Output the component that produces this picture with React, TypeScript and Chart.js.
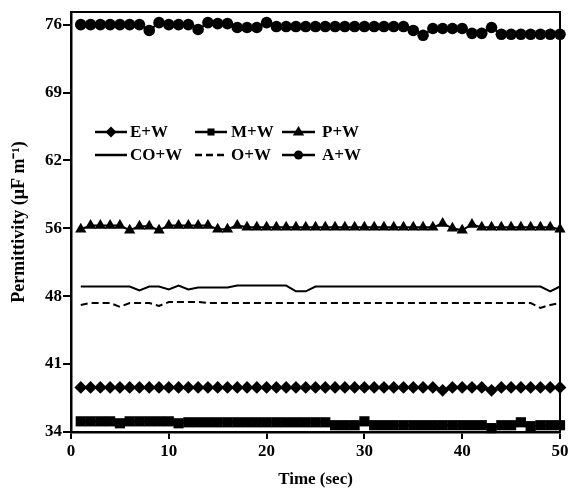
import React, { useEffect, useRef } from "react";
import { Chart, registerables } from "chart.js";

Chart.register(...registerables);

const times = Array.from({ length: 50 }, (_, i) => i + 1);

const ewValues = [
  38.6, 38.6, 38.6, 38.6, 38.6, 38.6, 38.6, 38.6, 38.6, 38.6,
  38.6, 38.6, 38.6, 38.6, 38.6, 38.6, 38.6, 38.6, 38.6, 38.6,
  38.6, 38.6, 38.6, 38.6, 38.6, 38.6, 38.6, 38.6, 38.6, 38.6,
  38.6, 38.6, 38.6, 38.6, 38.6, 38.6, 38.6, 38.3, 38.6, 38.6,
  38.6, 38.6, 38.3, 38.6, 38.6, 38.6, 38.6, 38.6, 38.6, 38.6,
];

const mwValues = [
  35.1, 35.1, 35.1, 35.1, 34.9, 35.1, 35.1, 35.1, 35.1, 35.1,
  34.9, 35.0, 35.0, 35.0, 35.0, 35.0, 35.0, 35.0, 35.0, 35.0,
  35.0, 35.0, 35.0, 35.0, 35.0, 35.0, 34.7, 34.7, 34.7, 35.1,
  34.7, 34.7, 34.7, 34.7, 34.7, 34.7, 34.7, 34.7, 34.7, 34.7,
  34.7, 34.7, 34.4, 34.7, 34.7, 35.0, 34.6, 34.7, 34.7, 34.7,
];

const pwValues = [
  54.9, 55.3, 55.3, 55.3, 55.3, 54.8, 55.2, 55.2, 54.8, 55.3,
  55.3, 55.3, 55.3, 55.3, 54.9, 54.9, 55.3, 55.1, 55.1, 55.1,
  55.1, 55.1, 55.1, 55.1, 55.1, 55.1, 55.1, 55.1, 55.1, 55.1,
  55.1, 55.1, 55.1, 55.1, 55.1, 55.1, 55.1, 55.5, 55.0, 54.8,
  55.4, 55.1, 55.1, 55.1, 55.1, 55.1, 55.1, 55.1, 55.1, 54.9,
];

const cowValues = [
  49.0, 49.0, 49.0, 49.0, 49.0, 49.0, 48.6, 49.0, 49.0, 48.7,
  49.1, 48.7, 48.9, 48.9, 48.9, 48.9, 49.1, 49.1, 49.1, 49.1,
  49.1, 49.1, 48.5, 48.5, 49.0, 49.0, 49.0, 49.0, 49.0, 49.0,
  49.0, 49.0, 49.0, 49.0, 49.0, 49.0, 49.0, 49.0, 49.0, 49.0,
  49.0, 49.0, 49.0, 49.0, 49.0, 49.0, 49.0, 49.0, 48.5, 49.0,
];

const owValues = [
  47.1, 47.3, 47.3, 47.3, 46.9, 47.3, 47.3, 47.3, 47.0, 47.4,
  47.4, 47.4, 47.4, 47.3, 47.3, 47.3, 47.3, 47.3, 47.3, 47.3,
  47.3, 47.3, 47.3, 47.3, 47.3, 47.3, 47.3, 47.3, 47.3, 47.3,
  47.3, 47.3, 47.3, 47.3, 47.3, 47.3, 47.3, 47.3, 47.3, 47.3,
  47.3, 47.3, 47.3, 47.3, 47.3, 47.3, 47.3, 46.8, 47.1, 47.3,
];

const awValues = [
  76.0, 76.0, 76.0, 76.0, 76.0, 76.0, 76.0, 75.4, 76.2, 76.0,
  76.0, 76.0, 75.5, 76.2, 76.1, 76.1, 75.7, 75.7, 75.7, 76.2,
  75.8, 75.8, 75.8, 75.8, 75.8, 75.8, 75.8, 75.8, 75.8, 75.8,
  75.8, 75.8, 75.8, 75.8, 75.4, 74.9, 75.6, 75.6, 75.6, 75.6,
  75.1, 75.1, 75.7, 75.0, 75.0, 75.0, 75.0, 75.0, 75.0, 75.0,
];

const seriesLabels = ["E+W", "M+W", "P+W", "CO+W", "O+W", "A+W"];
const yTickValues = [34, 41, 48, 55, 62, 69, 76];
const yTickLabels = ["34", "41", "48", "56", "62", "69", "76"];
const xTickValues = [0, 10, 20, 30, 40, 50];

const FONT_FAMILY = "'Liberation Serif', 'Times New Roman', serif";

function drawMarker(ctx: CanvasRenderingContext2D, style: string, x: number, y: number, r: number) {
  ctx.beginPath();
  if (style === "rectRot") {
    ctx.moveTo(x, y - r);
    ctx.lineTo(x + r, y);
    ctx.lineTo(x, y + r);
    ctx.lineTo(x - r, y);
    ctx.closePath();
  } else if (style === "rect") {
    const s = r * Math.SQRT1_2;
    ctx.rect(x - s, y - s, 2 * s, 2 * s);
  } else if (style === "triangle") {
    ctx.moveTo(x, y - r);
    ctx.lineTo(x + r * 0.95, y + r * 0.6);
    ctx.lineTo(x - r * 0.95, y + r * 0.6);
    ctx.closePath();
  } else if (style === "circle") {
    ctx.arc(x, y, r, 0, Math.PI * 2);
  } else {
    return;
  }
  ctx.fill();
}

const frameAndLegend = {
  id: "frameAndLegend",
  afterDraw(chart: any) {
    const { ctx, chartArea } = chart;
    ctx.save();
    ctx.strokeStyle = "#000";
    ctx.lineWidth = 2;
    ctx.strokeRect(chartArea.left, chartArea.top, chartArea.right - chartArea.left, chartArea.bottom - chartArea.top);

    const cols = [
      { x1: 24, x2: 56, tx: 59 },
      { x1: 124, x2: 156, tx: 160 },
      { x1: 211, x2: 244, tx: 251 },
    ];
    const rows = [120, 143];
    const markerSizes = [5.5, 5, 6, 0, 0, 4.5];
    chart.data.datasets.forEach((ds: any, i: number) => {
      const col = cols[i % 3];
      const row = rows[Math.floor(i / 3)];
      const x1 = chartArea.left + col.x1;
      const x2 = chartArea.left + col.x2;
      const y = chartArea.top + row;
      ctx.strokeStyle = "#000";
      ctx.fillStyle = "#000";
      ctx.lineWidth = 2.5;
      ctx.setLineDash(ds.borderDash || []);
      ctx.beginPath();
      ctx.moveTo(x1, y);
      ctx.lineTo(x2, y);
      ctx.stroke();
      ctx.setLineDash([]);
      if (ds.pointRadius > 0) {
        drawMarker(ctx, ds.pointStyle, (x1 + x2) / 2, y, markerSizes[i]);
      }
      ctx.font = "bold 17px " + FONT_FAMILY;
      ctx.textBaseline = "middle";
      ctx.textAlign = "left";
      ctx.fillText(ds.label, chartArea.left + col.tx, y + 1);
    });
    ctx.restore();
  },
};

export default function App() {
  const canvasRef = useRef<HTMLCanvasElement | null>(null);

  useEffect(() => {
    if (!canvasRef.current) return;
    const toXY = (vals: number[]) => vals.map((v, i) => ({ x: times[i], y: v }));
    const base = {
      borderColor: "#000",
      backgroundColor: "#000",
      pointBackgroundColor: "#000",
      pointBorderColor: "#000",
      pointBorderWidth: 0,
      borderWidth: 2,
      tension: 0,
      fill: false,
      clip: false as any,
    };
    const chart = new Chart(canvasRef.current, {
      type: "line",
      data: {
        datasets: [
          { ...base, label: seriesLabels[0], data: toXY(ewValues), pointStyle: "rectRot", pointRadius: 6.4 },
          { ...base, label: seriesLabels[1], data: toXY(mwValues), pointStyle: "rect", pointRadius: 7.2 },
          { ...base, label: seriesLabels[2], data: toXY(pwValues), pointStyle: "triangle", pointRadius: 6.5 },
          { ...base, label: seriesLabels[3], data: toXY(cowValues), pointRadius: 0 },
          { ...base, label: seriesLabels[4], data: toXY(owValues), pointRadius: 0, borderDash: [7, 4] },
          { ...base, label: seriesLabels[5], data: toXY(awValues), pointStyle: "circle", pointRadius: 5.8 },
        ],
      },
      options: {
        responsive: false,
        animation: false,
        devicePixelRatio: 1,
        layout: { padding: { left: 0, top: 12, right: 8, bottom: 0 } },
        plugins: { legend: { display: false }, tooltip: { enabled: false } },
        scales: {
          x: {
            type: "linear",
            min: 0,
            max: 50,
            afterBuildTicks: (scale: any) => {
              scale.ticks = xTickValues.map((v) => ({ value: v }));
            },
            afterFit: (scale: any) => {
              scale.height = 59;
              scale.paddingLeft = 0;
              scale.paddingRight = 0;
            },
            ticks: {
              color: "#000",
              font: { family: FONT_FAMILY, size: 17, weight: "bold" },
              padding: 2,
              maxRotation: 0,
              autoSkip: false,
            },
            grid: { drawOnChartArea: false, color: "#000", lineWidth: 2, tickLength: 7 },
            border: { color: "#000", width: 2.5 },
            title: {
              display: true,
              text: "Time (sec)",
              color: "#000",
              font: { family: FONT_FAMILY, size: 17, weight: "bold" },
              padding: { top: 0, bottom: 1 },
            },
          },
          y: {
            type: "linear",
            min: 34,
            max: 77.3,
            afterBuildTicks: (scale: any) => {
              scale.ticks = yTickValues.map((v) => ({ value: v }));
            },
            afterFit: (scale: any) => {
              scale.width = 71;
              scale.paddingTop = 0;
              scale.paddingBottom = 0;
            },
            ticks: {
              color: "#000",
              font: { family: FONT_FAMILY, size: 17, weight: "bold" },
              padding: 1,
              autoSkip: false,
              callback: (value: any) => {
                const idx = yTickValues.indexOf(Number(value));
                return idx >= 0 ? yTickLabels[idx] : "";
              },
            },
            grid: { drawOnChartArea: false, color: "#000", lineWidth: 2, tickLength: 8 },
            border: { color: "#000", width: 2.5 },
            title: {
              display: true,
              text: "Permittivity (μF m⁻¹)",
              color: "#000",
              font: { family: FONT_FAMILY, size: 18, weight: "bold" },
              padding: { top: 9, bottom: 0 },
            },
          },
        },
      },
      plugins: [frameAndLegend],
    });
    return () => chart.destroy();
  }, []);

  return (
    <div style={{ position: "absolute", left: 0, top: 0, width: 568, height: 491, background: "#fff" }}>
      <canvas ref={canvasRef} width={568} height={491} style={{ display: "block" }} />
    </div>
  );
}
